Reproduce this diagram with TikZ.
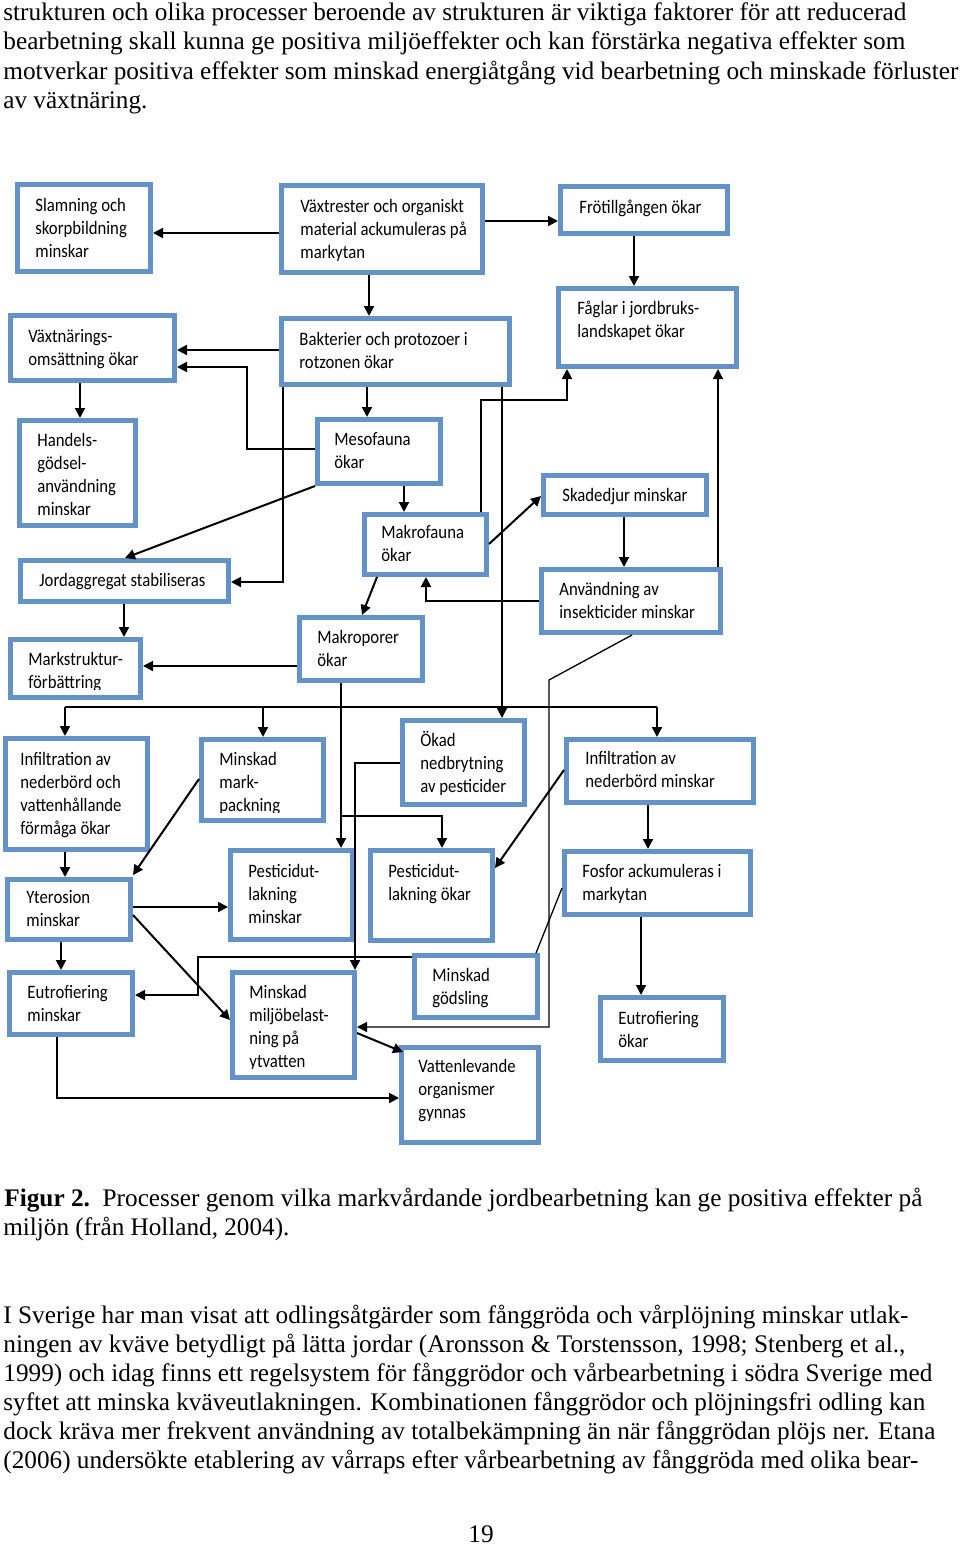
\documentclass[tikz,border=0pt]{standalone}
\usepackage{fontspec}
\usepackage{graphicx}
\setmainfont{Liberation Serif}
\newfontfamily\dfont[FakeStretch=0.88]{Carlito}
\usetikzlibrary{arrows.meta,calc,fit}
\definecolor{boxblue}{RGB}{100,146,198}
\newcommand\bx[5]{\node[box, fit={({#2+2.5},{#3+2.5}) ({#4-2.5},{#5-2.5})}] (#1) {};}
\newcommand\tx[4]{\foreach \ln [count=\k] in {#4} {\node[dtxt] (#1t\k) at (#2,{#3+(\k-1)*23}) {\ln};}}
\begin{document}
\begin{tikzpicture}[x=0.5pt,y=-0.5pt,
  box/.style={draw=boxblue, line width=2.5pt, inner sep=0pt},
  dtxt/.style={anchor=base west, inner sep=0pt, font=\dfont\fontsize{9.5}{11}\selectfont},
  body/.style={anchor=base west, inner sep=0pt, font=\fontsize{12.66}{14.5}\selectfont},
  arr/.style={line width=1pt, -{Triangle[length=5pt,width=5pt]}},
  ln/.style={line width=1pt},
  thinln/.style={line width=0.65pt}]
\fill[white] (0,0) rectangle (960,1547);
\useasboundingbox (0,0) rectangle (960,1547);

% ---------- body text ----------
\node[body] (top1) at (3,21) {\resizebox{451.5pt}{\height}{strukturen och olika processer beroende av strukturen är viktiga faktorer för att reducerad}};
\node[body] (top2) at (3,50) {\resizebox{451pt}{\height}{bearbetning skall kunna ge positiva miljöeffekter och kan förstärka negativa effekter som}};
\node[body] (top3) at (3,79) {\resizebox{477.5pt}{\height}{motverkar positiva effekter som minskad energiåtgång vid bearbetning och minskade förluster}};
\node[body] (top4) at (3,108) {\resizebox{72pt}{\height}{av växtnäring.}};

\node[body] (cap1) at (4,1206) {\resizebox{459pt}{\height}{\textbf{Figur 2.}\ \ Processer genom vilka markvårdande jordbearbetning kan ge positiva effekter på}};
\node[body] (cap2) at (3,1235) {\resizebox{143pt}{\height}{miljön (från Holland, 2004).}};

\node[body] (par1) at (3,1323) {\resizebox{452.5pt}{\height}{I Sverige har man visat att odlingsåtgärder som fånggröda och vårplöjning minskar utlak-}};
\node[body] (par2) at (3,1352) {\resizebox{451pt}{\height}{ningen av kväve betydligt på lätta jordar (Aronsson \& Torstensson, 1998; Stenberg et al.,}};
\node[body] (par3) at (3,1381) {\resizebox{464.5pt}{\height}{1999) och idag finns ett regelsystem för fånggrödor och vårbearbetning i södra Sverige med}};
\node[body] (par4) at (3,1410) {\resizebox{461pt}{\height}{syftet att minska kväveutlakningen. Kombinationen fånggrödor och plöjningsfri odling kan}};
\node[body] (par5) at (3,1439) {\resizebox{466pt}{\height}{dock kräva mer frekvent användning av totalbekämpning än när fånggrödan plöjs ner. Etana}};
\node[body] (par6) at (3,1468) {\resizebox{457.5pt}{\height}{(2006) undersökte etablering av vårraps efter vårbearbetning av fånggröda med olika bear-}};
\node[body, anchor=base] (pnum) at (481,1542) {19};

% ---------- boxes ----------
\bx{slam}{15}{182}{153}{274}
\bx{vaxtr}{279}{183}{485}{275}
\bx{frot}{558}{184}{730}{236}
\bx{vaxtn}{8}{313}{177}{383}
\bx{bakt}{279}{316}{512}{387}
\bx{fagl}{556}{286}{739}{369}
\bx{hand}{17}{418}{138}{528}
\bx{meso}{315}{417}{443}{486}
\bx{makrof}{362}{512}{489}{577}
\bx{skad}{541}{473}{709}{517}
\bx{jord}{18}{558}{231}{604}
\bx{anv}{539}{567}{723}{635}
\bx{makrop}{297}{615}{425}{683}
\bx{markst}{8}{637}{143}{700}
\bx{infok}{3}{736}{150}{852}
\bx{mpack}{199}{737}{326}{823}
\bx{oknedb}{400}{718}{527}{807}
\bx{infmin}{564}{737}{756}{805}
\bx{yter}{5}{877}{133}{942}
\bx{pmin}{228}{848}{355}{942}
\bx{pok}{368}{848}{495}{943}
\bx{fosf}{562}{849}{753}{917}
\bx{eutmin}{7}{970}{135}{1037}
\bx{miljo}{230}{970}{357}{1080}
\bx{mgods}{412}{953}{540}{1020}
\bx{vatten}{399}{1045}{541}{1145}
\bx{eutok}{598}{995}{726}{1063}

% ---------- box texts ----------
\tx{slam}{35}{211}{Slamning och, skorpbildning, minskar}
\tx{vaxtr}{300}{212}{Växtrester och organiskt, material ackumuleras på, markytan}
\tx{frot}{579}{213}{Frötillgången ökar}
\tx{vaxtn}{28}{342}{Växtnärings-, omsättning ökar}
\tx{bakt}{299}{345}{Bakterier och protozoer i, rotzonen ökar}
\tx{fagl}{577}{314}{Fåglar i jordbruks-, landskapet ökar}
\tx{hand}{37}{446}{Handels-, gödsel-, användning, minskar}
\tx{meso}{334}{445}{Mesofauna, ökar}
\tx{makrof}{381}{538}{Makrofauna, ökar}
\tx{skad}{562}{501}{Skadedjur minskar}
\tx{jord}{39}{586}{Jordaggregat stabiliseras}
\tx{anv}{559}{595}{Användning av, insekticider minskar}
\tx{makrop}{317}{643}{Makroporer, ökar}
\begin{scope}
\clip (8,637) rectangle (143,689);
\tx{markst}{28}{665}{Markstruktur-, förbättring}
\end{scope}
\tx{infok}{20}{765}{Infiltration av, nederbörd och, vattenhållande, förmåga ökar}
\begin{scope}
\clip (199,737) rectangle (326,812);
\tx{mpack}{219}{765}{Minskad, mark-, packning}
\end{scope}
\tx{oknedb}{420}{746}{Ökad, nedbrytning, av pesticider}
\tx{infmin}{585}{764}{Infiltration av, nederbörd minskar}
\tx{yter}{26}{903}{Yterosion, minskar}
\tx{pmin}{248}{877}{Pesticidut-, lakning, minskar}
\tx{pok}{388}{877}{Pesticidut-, lakning ökar}
\tx{fosf}{582}{877}{Fosfor ackumuleras i, markytan}
\tx{eutmin}{27}{998}{Eutrofiering, minskar}
\begin{scope}
\clip (230,970) rectangle (357,1068);
\tx{miljo}{249}{998}{Minskad, miljöbelast-, ning på, ytvatten}
\end{scope}
\tx{mgods}{432}{981}{Minskad, gödsling}
\tx{vatten}{418}{1072}{Vattenlevande, organismer, gynnas}
\tx{eutok}{618}{1024}{Eutrofiering, ökar}

% ---------- connectors ----------
\draw[arr] (vaxtr.west |- 0,233) -- (slam.east |- 0,233);
\draw[arr] (vaxtr.east |- 0,221) -- (frot.west |- 0,221);
\draw[arr] (vaxtr.south -| 369,0) -- (bakt.north -| 369,0);
\draw[arr] (frot.south -| 634,0) -- (fagl.north -| 634,0);
\draw[arr] (bakt.west |- 0,350) -- (vaxtn.east |- 0,350);
\draw[arr] (meso.west |- 0,449) -| (247,367) -- (vaxtn.east |- 0,367);
\draw[arr] (vaxtn.south -| 80,0) -- (hand.north -| 80,0);
\draw[arr] (bakt.south -| 367,0) -- (meso.north -| 367,0);
\draw[arr] (bakt.south -| 283,0) |- (jord.east |- 0,582);
\draw[arr] (meso.south west) -- (jord.north -| 125,0);
\draw[arr] (meso.south -| 404,0) -- (makrof.north -| 404,0);
\draw[arr] (makrof.south -| 377,0) -- (makrop.north -| 362,0);
\draw[arr] (makrof.north -| 481,0) |- (567,400) -- (fagl.south -| 567,0);
\draw[arr,thinln] (bakt.south -| 502,0) -- (oknedb.north -| 502,0);
\draw[arr] (makrof.east |- 0,544) -- (skad.west |- 0,496);
\draw[arr] (skad.south -| 624,0) -- (anv.north -| 624,0);
\draw[arr] (anv.west |- 0,601) -| (makrof.south -| 426,0);
\draw[arr,thinln] (anv.north -| 718,0) -- (fagl.south -| 718,0);
\draw[arr] (jord.south -| 124,0) -- (markst.north -| 124,0);
\draw[arr] (makrop.west |- 0,666) -- (markst.east |- 0,666);
% bus
\coordinate (busL) at (65,707);
\coordinate (busR) at (657,707);
\draw[thinln] (busL) -- (busR);
\draw[arr] (busL) -- (infok.north -| busL);
\draw[arr] (busL -| 263,0) -- (mpack.north -| 263,0);
\draw[arr] (busR) -- (infmin.north -| busR);
% makroporer down
\coordinate (br1) at (341,816);
\draw[arr] (makrop.south -| 341,0) -- (pmin.north -| 341,0);
\draw[arr] (br1) -| (pok.north -| 442,0);
% anvandning long line
\draw[arr,thinln] (anv.south -| 632,0) -- (549,680) -- (549,1027) -- (miljo.east |- 0,1027);
\draw[arr] (infok.south -| 65,0) -- (yter.north -| 65,0);
\draw[arr] (mpack.west |- 0,779) -- (yter.east |- 0,875);
\draw[arr] (infmin.south -| 648,0) -- (fosf.north -| 648,0);
\draw[arr] (infmin.west |- 0,770) -- (pok.east |- 0,868);
\draw[arr] (oknedb.west |- 0,763) -| (miljo.north -| 355,0);
\draw[arr] (yter.east |- 0,907) -- (pmin.west |- 0,907);
\draw[arr] (yter.east |- 0,915) -- (miljo.west |- 0,1020);
\draw[arr] (yter.south -| 61,0) -- (eutmin.north -| 61,0);
\draw[thinln] (fosf.west |- 0,888) -- ([xshift=-2pt]mgods.north east);
\draw[arr] (fosf.south -| 641,0) -- (eutok.north -| 641,0);
\draw[arr] (mgods.west |- 0,957) -| (198,995) -- (eutmin.east |- 0,995);
\draw[arr] (eutmin.south -| 57,0) |- (vatten.west |- 0,1098);
\draw[arr] (miljo.east |- 0,1033) -- ([xshift=2pt,yshift=-3.5pt]vatten.north west);
\end{tikzpicture}
\end{document}
